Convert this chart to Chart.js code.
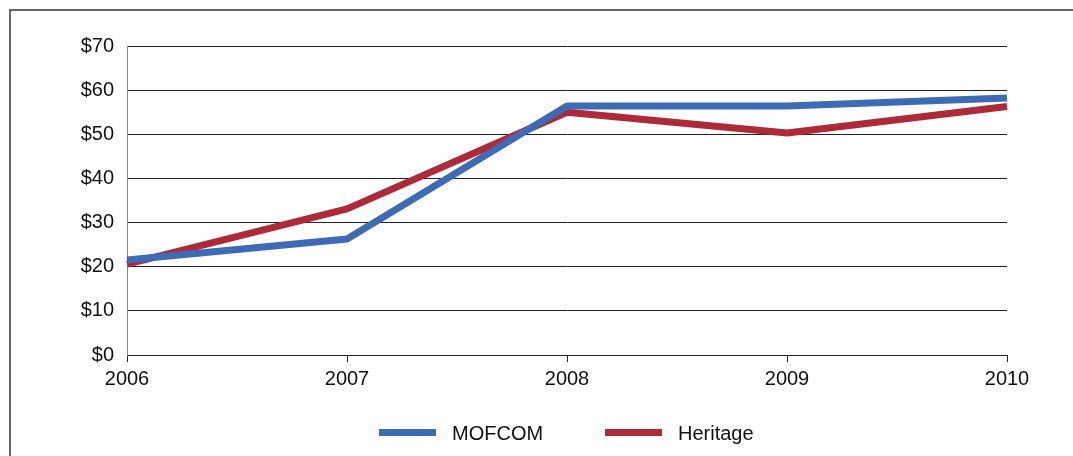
<!DOCTYPE html>
<html>
<head>
<meta charset="utf-8">
<script src="https://cdn.jsdelivr.net/npm/chart.js@4/dist/chart.umd.min.js"></script>
<style>
  html, body { margin: 0; padding: 0; background: #fff; }
  #wrap { position: relative; width: 1073px; height: 456px; overflow: hidden; }
  #frame { position: absolute; left: 9px; top: 9px; right: -10px; bottom: -10px;
           border-left: 2px solid #666; border-top: 2px solid #666; }
  canvas { position: absolute; left: 0; top: 0; }
  #legend { position: absolute; left: 0; top: 421px; width: 1073px; height: 24px;
            font-family: "Liberation Sans", Arial, sans-serif; font-size: 20px; color: #111; }
  .item { position: absolute; top: 0; height: 24px; line-height: 24px; }
  .swatch { position: absolute; top: 8px; left: 0; width: 57px; height: 7px; }
  .label { position: absolute; left: 73px; white-space: nowrap; }
</style>
</head>
<body>
<div id="wrap">
  <div id="frame"></div>
  <canvas id="chart" width="1073" height="456"></canvas>
  <div id="legend"></div>
</div>
<script>
// データ
const years = ['2006', '2007', '2008', '2009', '2010'];
const mofcom = [21.5, 26.3, 56.4, 56.4, 58.2];
const heritage = [20.6, 33.1, 55.0, 50.3, 56.3];
const seriesNames = ['MOFCOM', 'Heritage'];
const seriesColors = ['#3d6cb4', '#ad2a38'];
const yTicks = [0, 10, 20, 30, 40, 50, 60, 70];

const font = { family: '"Liberation Sans", Arial, sans-serif', size: 20 };

const ctx = document.getElementById('chart').getContext('2d');
new Chart(ctx, {
  type: 'line',
  data: {
    labels: years,
    datasets: [mofcom, heritage].map((vals, i) => ({
      label: seriesNames[i],
      data: vals,
      borderColor: seriesColors[i],
      backgroundColor: seriesColors[i],
      borderWidth: 7,
      pointRadius: 0,
      tension: 0,
      borderCapStyle: 'butt',
      borderJoinStyle: 'round'
    }))
  },
  options: {
    responsive: false,
    animation: false,
    layout: { padding: { left: 0, right: 66, top: 46, bottom: 61 } },
    plugins: { legend: { display: false }, tooltip: { enabled: false } },
    scales: {
      x: {
        offset: false,
        grid: { drawOnChartArea: false, drawTicks: true, tickLength: 7, color: '#222' },
        border: { color: '#222', width: 1 },
        ticks: { font: font, color: '#111', padding: 5, maxRotation: 0 },
        afterFit: s => { s.height = 40; }
      },
      y: {
        min: 0,
        max: yTicks[yTicks.length - 1],
        afterBuildTicks: s => { s.ticks = yTicks.map(v => ({ value: v })); },
        grid: { color: '#222', drawTicks: false },
        border: { color: '#888', width: 1 },
        ticks: { font: font, color: '#111', padding: 13, callback: v => '$' + v },
        afterFit: s => { s.width = 127; }
      }
    }
  }
});

// 凡例
const legendPos = [379, 605];
const legend = document.getElementById('legend');
seriesNames.forEach((name, i) => {
  const it = document.createElement('div');
  it.className = 'item';
  it.style.left = legendPos[i] + 'px';
  it.innerHTML = '<div class="swatch" style="background:' + seriesColors[i] + '"></div>' +
                 '<span class="label">' + name + '</span>';
  legend.appendChild(it);
});
</script>
</body>
</html>
